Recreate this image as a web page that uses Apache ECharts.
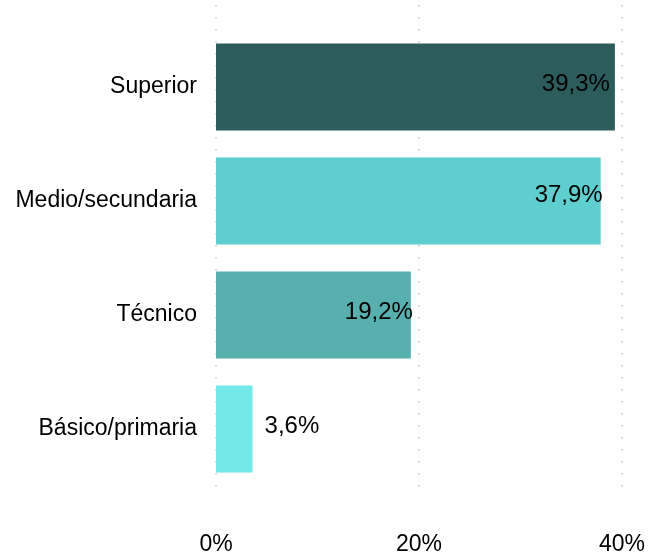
<!DOCTYPE html>
<html>
<head>
<meta charset="utf-8">
<script src="https://cdn.jsdelivr.net/npm/echarts@6/dist/echarts.min.js"></script>
<style>html,body{margin:0;padding:0;background:#fff}#c{width:648px;height:559px}</style>
</head>
<body>
<div id="c"></div>
<script>
const categories = ['Superior', 'Medio/secundaria', 'Técnico', 'Básico/primaria'];
const values = [39.3, 37.9, 19.2, 3.6];
const barColors = ['#2d5c5c', '#5ecece', '#57b0ae', '#73e8e8'];
const xTicks = [0, 20, 40];

const FONT = '"Liberation Sans", Arial, sans-serif';
const chart = echarts.init(document.getElementById('c'));
const fmt = v => v.toFixed(1).replace('.', ',') + '%';

function labelFor(i, v) {
  if (v < 10) return { position: 'right', distance: 12, offset: [0, -3] };
  if (i === 0) return { position: 'insideRight', distance: 5, offset: [0, -3] };
  return { position: 'insideRight', distance: -2, offset: [0, i === 1 ? -6 : -3] };
}

chart.setOption({
  animation: false,
  textStyle: { fontFamily: FONT },
  grid: [
    { left: 216, right: 26, top: 5, bottom: 64 },
    { left: 216, right: 26, top: 30, bottom: 73 }
  ],
  xAxis: [
    {
      gridIndex: 0, type: 'value', min: xTicks[0], max: xTicks[xTicks.length - 1], interval: 20,
      axisLine: { show: false }, axisTick: { show: false },
      axisLabel: { formatter: v => v + '%', fontSize: 23, color: '#000', margin: 38, fontFamily: FONT },
      splitLine: { show: true, lineStyle: { color: '#c4c4c4', width: 1.5, type: [1.5, 10.5] } }
    },
    {
      gridIndex: 1, type: 'value', min: xTicks[0], max: xTicks[xTicks.length - 1],
      show: false, splitLine: { show: false }
    }
  ],
  yAxis: [
    { gridIndex: 0, type: 'category', data: categories, show: false },
    {
      gridIndex: 1, type: 'category', data: categories, inverse: true,
      axisLine: { show: false }, axisTick: { show: false },
      axisLabel: { fontSize: 23, color: '#000', margin: 19, fontFamily: FONT },
      splitLine: { show: false }
    }
  ],
  series: [{
    type: 'bar',
    xAxisIndex: 1, yAxisIndex: 1,
    barWidth: 87,
    data: values.map((v, i) => ({
      value: v,
      itemStyle: { color: barColors[i] },
      label: labelFor(i, v)
    })),
    label: {
      show: true, fontSize: 24, color: '#000', fontFamily: FONT,
      formatter: p => fmt(p.value)
    }
  }]
});
</script>
</body>
</html>
